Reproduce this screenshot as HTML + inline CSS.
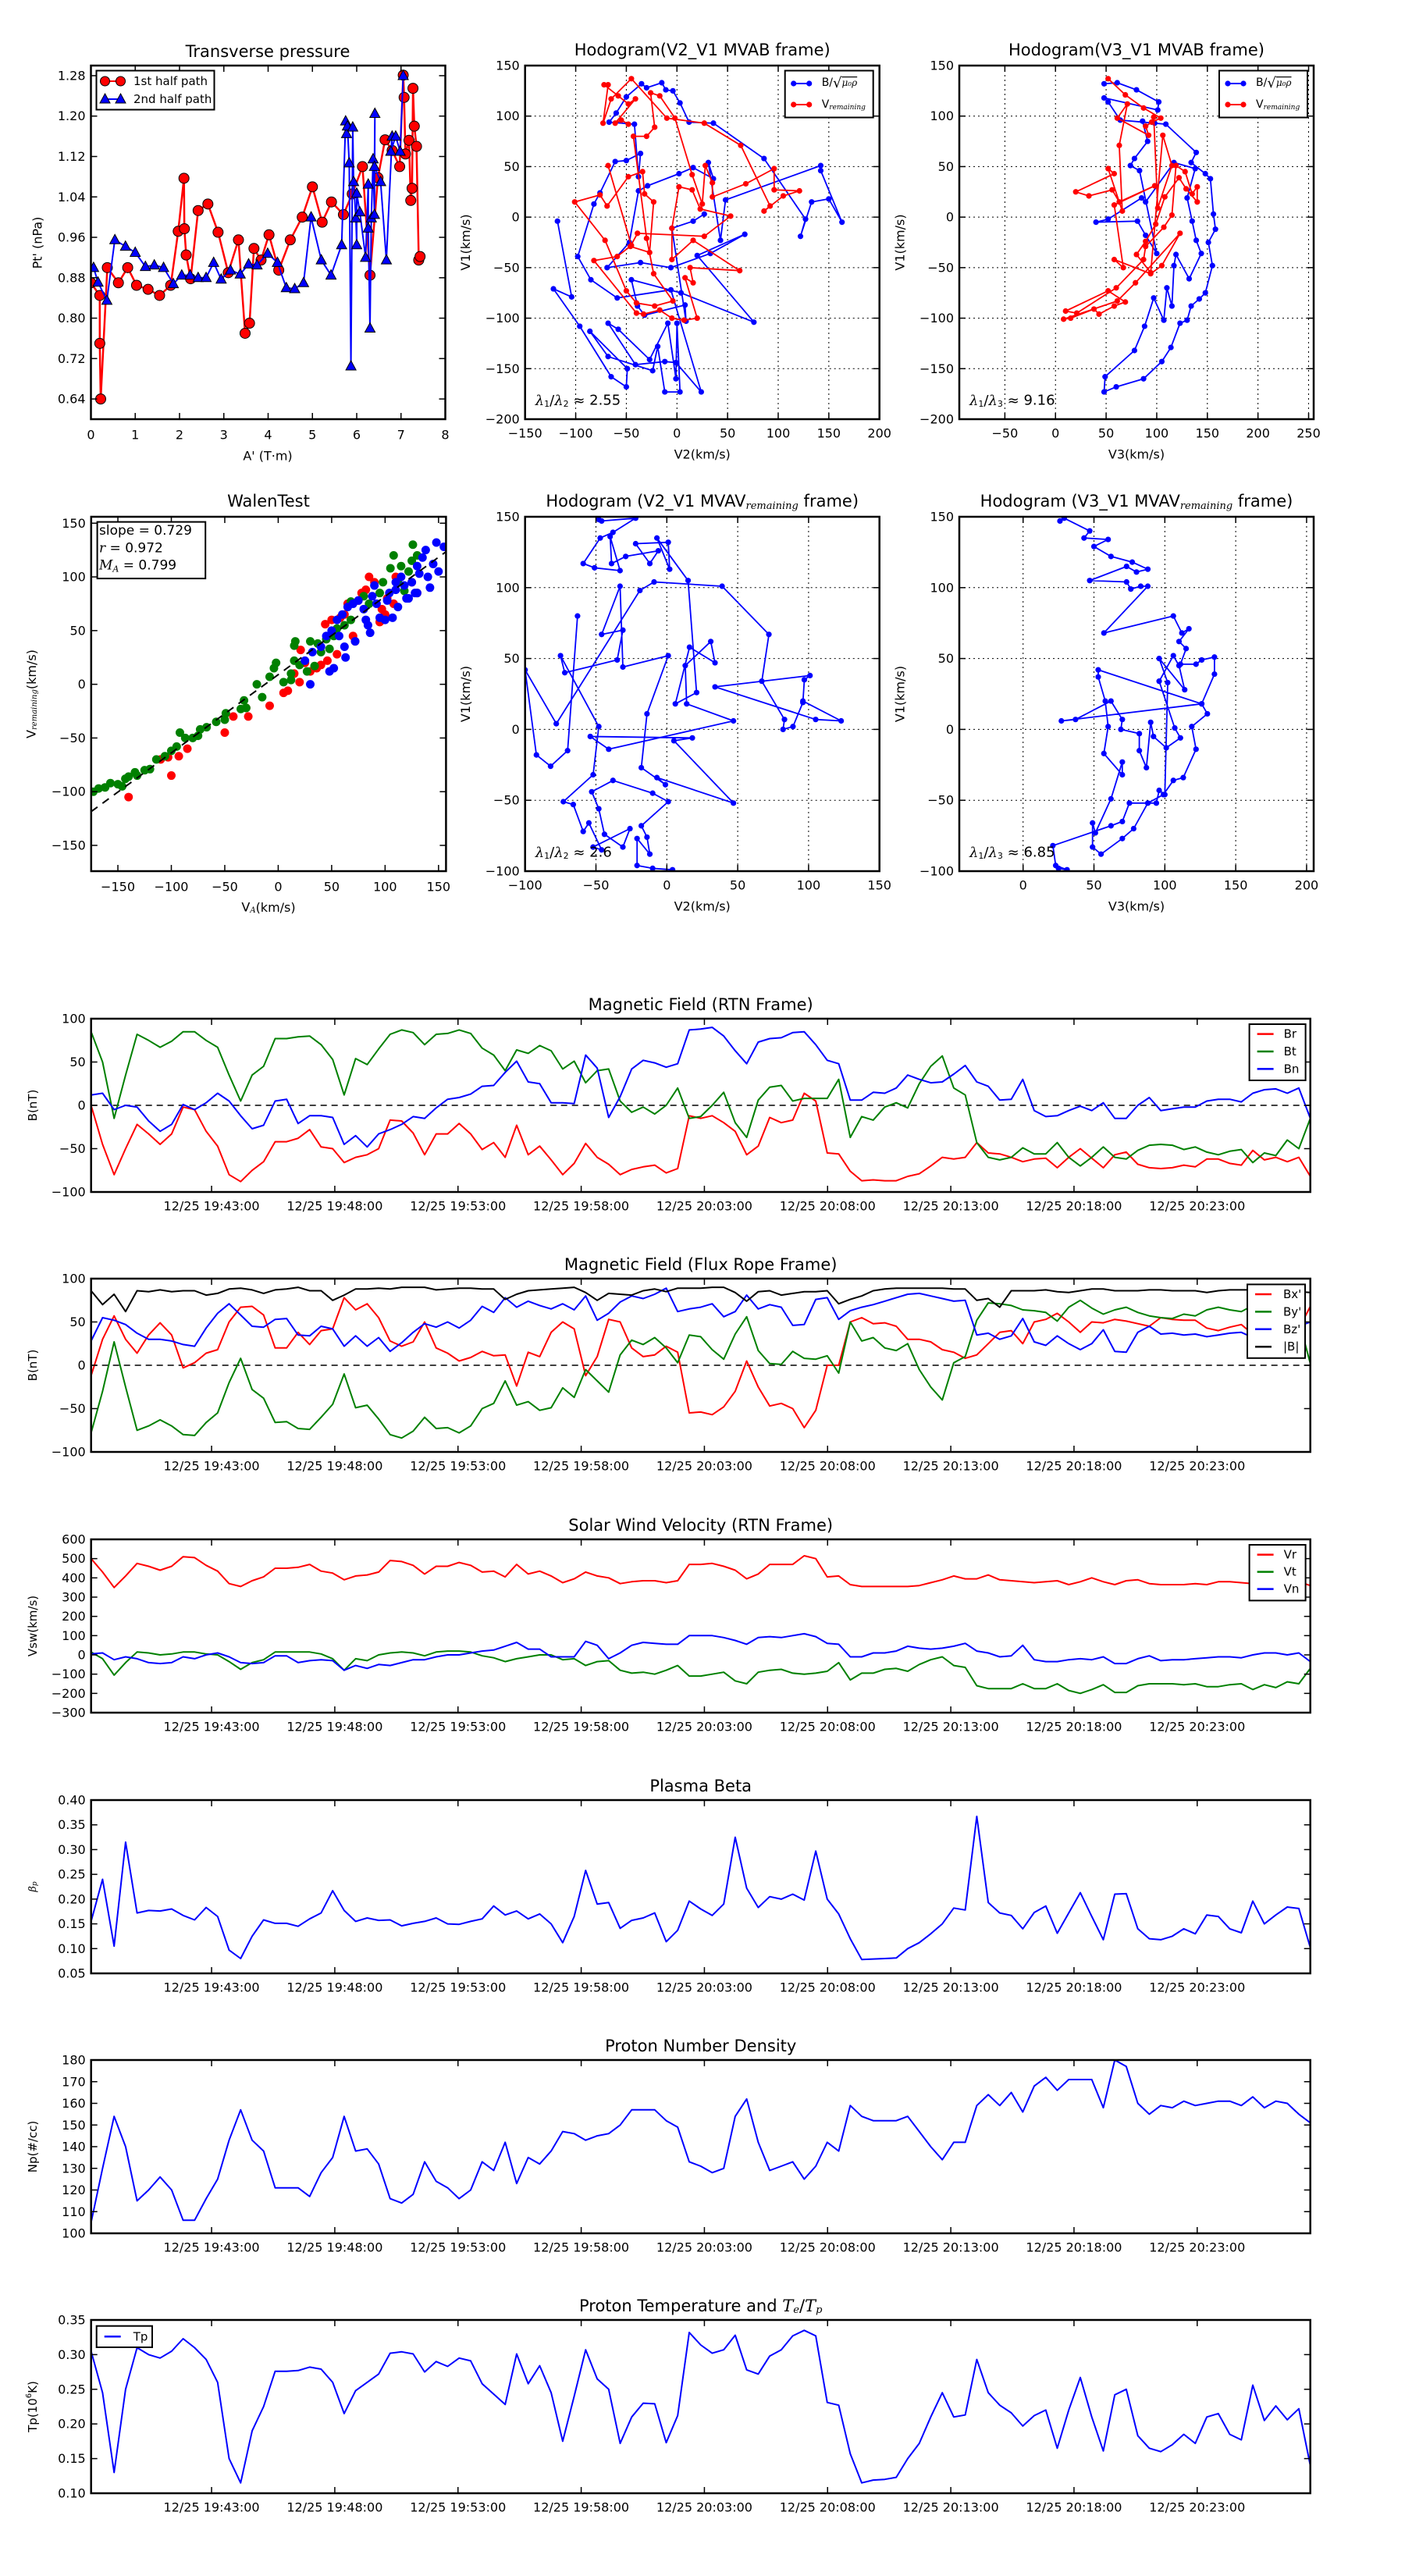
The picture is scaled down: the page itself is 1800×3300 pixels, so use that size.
<!DOCTYPE html>
<html><head><meta charset="utf-8"><title>Flux rope analysis</title>
<style>
html,body{margin:0;padding:0;background:#fff;}
svg{display:block;font-family:"DejaVu Sans","Liberation Sans",sans-serif;}
</style></head>
<body>
<svg id="chart" xmlns="http://www.w3.org/2000/svg" width="1800" height="3300" viewBox="0 0 1800 3300">
<rect x="0" y="0" width="1800" height="3300" fill="#fff"/>
</svg>
<script>
// ---------------- DATA ----------------
const tp1X=[0,0.2,0.2,0.22,0.37,0.62,0.83,1.03,1.29,1.55,1.8,1.97,2.1,2.11,2.15,2.25,2.42,2.64,2.87,3.1,3.33,3.48,3.58,3.68,3.84,4.02,4.24,4.5,4.77,5.0,5.22,5.43,5.7,5.9,6.13,6.3,6.48,6.64,6.8,6.97,7.05,7.07,7.1,7.18,7.22,7.25,7.27,7.3,7.35,7.4,7.43];
const tp1Y=[0.87,0.845,0.75,0.64,0.90,0.87,0.90,0.865,0.857,0.845,0.865,0.972,1.077,0.977,0.925,0.878,1.013,1.026,0.97,0.89,0.955,0.77,0.79,0.938,0.915,0.965,0.895,0.955,1.0,1.06,0.99,1.03,1.005,1.046,1.1,0.885,1.078,1.153,1.132,1.1,1.281,1.237,1.125,1.152,1.033,1.057,1.255,1.18,1.14,0.915,0.922];
const tp2X=[0.06,0.16,0.36,0.54,0.78,1.0,1.23,1.43,1.64,1.86,2.05,2.24,2.42,2.6,2.77,2.94,3.15,3.37,3.56,3.75,3.99,4.21,4.41,4.6,4.8,4.97,5.2,5.42,5.66,5.75,5.77,5.79,5.83,5.87,5.91,5.93,5.98,6.0,6.0,6.07,6.2,6.26,6.26,6.3,6.33,6.37,6.4,6.41,6.4,6.54,6.67,6.8,6.77,6.88,6.98,7.05];
const tp2Y=[0.9,0.871,0.835,0.955,0.942,0.93,0.902,0.905,0.9,0.868,0.885,0.885,0.88,0.88,0.91,0.877,0.895,0.887,0.907,0.905,0.928,0.91,0.86,0.858,0.87,1.0,0.915,0.885,0.945,1.19,1.165,1.18,1.107,0.705,1.178,1.07,0.998,0.945,1.047,1.01,0.92,1.065,0.978,0.78,0.998,1.115,1.005,1.205,1.1,1.07,0.915,1.16,1.13,1.16,1.13,1.28];

const hodo1B=[[-118,-4],[-104,-79],[-122,-71],[-96,-108],[-65,-158],[-50,-168],[-49,-150],[-86,-113],[-68,-138],[-24,-152],[-19,-128],[-12,-173],[3,-173],[0,-105],[-1,-160],[-9,-105],[-27,-141],[-58,-111],[-68,-105],[-41,-146],[-12,-143],[-1,-144],[24,-173],[-6,-72],[-59,-80],[-85,-62],[-98,-39],[-82,13],[-76,24],[-61,55],[-50,56],[-36,63],[-38,40],[-42,92],[-67,94],[-60,103],[-50,119],[-35,132],[-30,128],[-15,133],[-11,126],[-4,125],[3,113],[12,94],[36,93],[86,58],[127,-2],[122,-19],[133,15],[150,18],[163,-5],[142,46],[142,51],[48,17],[43,-23],[31,54],[36,38],[16,49],[2,43],[-29,31],[-38,26],[-47,-25],[-69,-50],[-36,-45],[-6,-50],[33,-36],[67,-17],[20,-38],[76,-104],[4,-75],[-45,-62],[-39,-88],[-32,-97],[8,-87],[9,-103],[-5,-11],[16,-4],[27,3]];
const hodo1V=[[-68,51],[-45,-28],[-59,-39],[-82,-43],[-40,-95],[-33,-96],[-17,-92],[-5,-100],[7,-102],[20,-100],[8,-60],[16,-65],[13,-50],[62,-53],[16,-23],[-5,-42],[-5,-11],[2,30],[15,27],[23,8],[53,1],[27,-19],[-39,-16],[-46,-29],[-27,-35],[-23,15],[-32,23],[-34,45],[-48,40],[-69,11],[-76,22],[-101,15],[-71,-23],[-50,-73],[-40,-85],[-22,-88],[-4,-83],[-23,-56],[-30,-21],[-43,80],[-30,80],[-22,89],[-26,123],[-17,120],[-2,98],[15,42],[25,13],[28,51],[35,34],[35,20],[68,33],[96,48],[96,27],[121,26],[105,21],[86,6],[92,11],[63,71],[27,93],[-10,98],[-45,137],[-65,117],[-73,93],[-68,131],[-72,131],[-58,120],[-48,112],[-41,117],[-61,93],[-55,96],[-48,92]];
const hodo2B=[[48,132],[61,133],[80,126],[102,114],[101,106],[48,118],[52,114],[64,96],[98,93],[109,92],[139,64],[134,54],[148,43],[153,38],[156,3],[158,-12],[151,-25],[155,-48],[148,-75],[142,-81],[134,-88],[130,-102],[123,-105],[114,-129],[105,-143],[87,-160],[60,-168],[48,-173],[49,-158],[78,-132],[88,-108],[97,-80],[107,-102],[110,-70],[115,-88],[117,-48],[119,-37],[132,-61],[144,-36],[139,-23],[135,-4],[130,19],[138,48],[117,54],[89,15],[85,19],[52,-2],[40,-5],[81,-4],[89,-18],[100,-36],[83,46],[74,51],[78,58],[91,75],[86,95]];
const hodo2V=[[52,137],[69,121],[87,108],[104,98],[95,94],[89,90],[92,81],[61,98],[71,112],[63,71],[66,6],[52,48],[58,43],[20,25],[33,21],[56,27],[63,15],[98,31],[58,12],[67,-50],[58,-42],[94,-56],[105,-48],[123,-16],[79,-65],[61,-83],[8,-101],[15,-100],[38,-91],[43,-96],[58,-88],[69,-84],[52,-73],[10,-93],[21,-95],[60,-70],[87,-42],[89,-29],[107,-10],[115,2],[119,51],[128,45],[135,23],[140,30],[140,15],[129,28],[122,39],[108,20],[99,-7],[89,-24],[80,-37],[94,-55],[106,81],[115,51],[101,9],[97,99]];
const walenG=[[-173,-100],[-168,-97],[-162,-96],[-157,-92],[-150,-93],[-146,-95],[-143,-88],[-140,-86],[-134,-82],[-132,-85],[-125,-80],[-120,-79],[-114,-70],[-106,-67],[-100,-62],[-95,-58],[-92,-45],[-87,-50],[-80,-50],[-75,-48],[-73,-42],[-67,-40],[-58,-35],[-50,-33],[-49,-27],[-35,-23],[-32,-15],[-30,-22],[-20,0],[-15,-12],[-8,7],[-4,15],[-2,20],[5,2],[12,4],[12,10],[15,22],[15,36],[16,40],[20,18],[27,12],[30,40],[34,17],[37,38],[40,30],[45,42],[48,33],[52,45],[55,52],[62,55],[68,60],[68,77],[80,82],[85,75],[95,85],[98,95],[105,108],[108,120],[112,95],[115,110],[118,87],[122,105],[125,115],[126,130],[130,120]];
const walenR=[[-140,-105],[-110,-70],[-103,-68],[-100,-85],[-93,-67],[-85,-60],[-50,-45],[-42,-30],[-30,-22],[-28,-30],[-8,-20],[5,-8],[9,-6],[15,10],[20,2],[21,32],[25,20],[30,12],[36,15],[40,18],[46,22],[44,56],[50,60],[55,28],[58,62],[62,65],[65,75],[70,45],[72,40],[75,78],[78,85],[82,88],[85,100],[90,95],[95,58],[100,65],[97,70],[102,80],[110,100],[108,75],[125,95],[130,85]];
const walenB=[[30,0],[25,22],[32,30],[40,35],[45,45],[50,50],[55,60],[60,65],[62,35],[57,45],[63,25],[65,72],[70,75],[72,40],[75,78],[80,70],[82,60],[84,55],[86,48],[88,82],[90,92],[92,75],[95,62],[100,60],[102,78],[104,85],[107,62],[110,95],[112,72],[115,100],[120,80],[125,95],[128,85],[130,110],[132,103],[135,118],[138,125],[140,100],[142,90],[145,112],[148,132],[150,105],[155,128],[130,85],[118,92],[122,80],[110,88],[48,12],[52,15]];
const walenSlope=0.729, walenIntercept=9;
const hodo3B=[[-48,148],[-46,147],[-22,149],[-38,139],[-47,135],[-59,117],[-51,114],[-33,112],[-40,136],[-39,117],[-29,122],[-6,126],[-12,117],[-22,131],[1,132],[2,113],[-7,135],[15,105],[21,26],[6,18],[16,58],[34,47],[31,62],[13,45],[14,18],[47,6],[-41,-14],[-54,-5],[18,-6],[5,-8],[47,-52],[-7,-34],[-1,-39],[-18,-27],[-14,11],[1,52],[-31,44],[-33,101],[-46,67],[-31,70],[-35,49],[-72,40],[-75,52],[-48,2],[-52,-32],[-73,-51],[-66,-53],[-59,-72],[-55,-66],[-46,-85],[-52,-83],[-26,-70],[-31,-83],[-44,-74],[-48,-56],[-53,-44],[-38,-36],[-10,-45],[1,-51],[-18,-68],[-14,-76],[-12,-88],[-21,-77],[-21,-96],[-10,-98],[4,-99]];
const hodo3B2=[[-63,80],[-70,-15],[-82,-26],[-92,-18],[-100,42],[-78,4],[-19,98],[-9,104],[39,101],[72,67],[67,34],[83,7],[82,0],[89,2],[96,19],[97,35],[101,38],[34,30],[105,7],[123,6],[96,20]];
const hodo4B=[[26,147],[29,149],[47,140],[43,135],[60,134],[50,129],[62,122],[77,118],[88,113],[80,111],[73,115],[47,105],[73,104],[76,99],[83,101],[88,101],[57,68],[106,80],[112,68],[117,71],[110,62],[115,57],[111,46],[122,46],[126,49],[135,51],[135,39],[126,18],[130,11],[119,2],[122,-14],[113,-34],[106,-36],[99,-46],[88,-52],[78,-70],[70,-77],[55,-88],[49,-83],[49,-66],[51,-73],[62,-49],[70,-23],[70,-32],[57,-17],[60,2],[58,20],[53,37],[53,42],[126,18],[27,6],[37,7],[62,20],[70,7],[69,0],[82,-3],[82,-15],[87,-27],[90,5],[92,-5],[101,-13],[111,-6],[107,1],[96,34],[106,52],[110,45],[114,28],[96,50],[102,33],[100,-46],[96,-43],[94,-52],[75,-52],[70,-65],[62,-68],[21,-82],[23,-96],[31,-99],[25,-98]];

// time series (minutes after 19:00)
const tStart=38.11, tStep=0.4668;
const timeTicks=[43,48,53,58,63,68,73,78,83];
const timeTickLabels=['12/25 19:43:00','12/25 19:48:00','12/25 19:53:00','12/25 19:58:00','12/25 20:03:00','12/25 20:08:00','12/25 20:13:00','12/25 20:18:00','12/25 20:23:00'];
const Br=[0,-45,-80,-50,-22,-33,-45,-33,-2,-5,-30,-47,-80,-88,-75,-65,-42,-42,-38,-28,-48,-50,-66,-60,-57,-50,-17,-18,-32,-57,-33,-33,-21,-33,-51,-43,-60,-23,-57,-47,-63,-80,-67,-44,-60,-68,-80,-74,-71,-69,-78,-73,-12,-15,-12,-20,-30,-57,-47,-14,-20,-17,14,5,-55,-56,-76,-87,-86,-87,-87,-82,-79,-70,-60,-62,-60,-43,-55,-56,-60,-65,-62,-61,-72,-60,-50,-61,-72,-57,-54,-68,-72,-73,-72,-69,-71,-62,-62,-67,-69,-52,-63,-60,-65,-60,-82];
const Bt=[85,50,-15,35,82,75,67,74,85,85,75,67,35,5,35,45,77,77,79,80,70,53,12,54,47,65,82,87,84,70,82,83,87,83,66,58,40,64,60,69,63,42,51,26,40,42,5,-8,-2,-10,0,20,-15,-13,0,15,-20,-37,6,21,23,5,8,8,8,30,-37,-13,-17,-2,3,-3,25,45,57,20,12,-43,-60,-63,-60,-49,-56,-56,-43,-60,-70,-60,-48,-60,-62,-52,-46,-45,-46,-51,-48,-54,-57,-53,-51,-66,-55,-58,-40,-50,-15];
const Bn=[12,14,-5,0,-2,-18,-30,-22,1,-5,3,14,5,-12,-27,-23,5,7,-21,-12,-12,-14,-45,-35,-48,-33,-28,-22,-13,-15,-3,7,9,13,22,23,38,51,27,25,3,3,2,58,43,-14,10,42,52,49,44,48,87,88,90,80,63,48,73,77,78,84,85,70,52,48,6,6,15,14,20,35,30,26,27,36,46,27,22,6,7,30,-6,-13,-12,-6,-1,-6,3,-15,-15,0,9,-6,-4,-2,-2,5,7,7,4,14,18,19,14,20,-15];
const Bx=[-12,30,57,30,14,35,49,35,-3,3,14,18,50,67,68,58,20,20,38,24,40,42,78,64,71,55,28,22,27,50,20,14,5,9,16,11,12,-24,15,10,38,50,42,-12,10,53,50,20,10,12,22,15,-55,-54,-57,-48,-30,5,-25,-47,-44,-50,-72,-52,0,0,50,55,48,49,45,30,30,27,18,15,8,12,25,38,40,25,50,53,60,50,38,50,49,53,51,48,45,55,53,52,52,43,40,44,47,36,45,45,40,42,68];
const By=[-78,-30,27,-25,-75,-70,-63,-70,-80,-81,-66,-55,-20,8,-28,-38,-66,-65,-73,-74,-60,-45,-10,-49,-46,-62,-80,-84,-76,-60,-73,-72,-78,-70,-50,-44,-18,-46,-42,-52,-49,-26,-37,-5,-18,-31,12,29,24,32,20,3,35,33,18,7,36,56,17,2,1,16,8,7,11,-9,50,28,32,20,17,25,-5,-25,-40,3,10,52,72,71,69,64,63,61,51,67,75,66,59,64,67,61,57,55,54,59,57,64,67,64,62,69,66,60,55,52,2];
const Bz=[28,55,52,47,37,30,30,28,24,22,43,60,71,58,45,44,53,54,35,34,45,42,22,34,22,32,16,26,38,48,44,50,43,52,68,61,78,67,74,69,65,71,64,80,52,60,73,80,77,82,89,62,65,67,71,56,62,81,65,70,67,46,47,76,78,53,63,67,70,74,78,82,83,80,77,74,75,35,37,30,34,54,27,23,34,25,18,25,41,16,15,38,45,36,37,35,36,33,35,37,38,32,44,42,35,45,50];
const Bmag=[86,70,82,62,86,85,87,85,86,86,81,83,88,89,87,83,87,88,90,86,86,75,81,88,88,89,88,90,90,90,87,88,89,89,88,88,76,82,86,87,88,89,90,84,75,83,82,81,86,88,85,89,89,89,90,90,84,74,85,86,81,83,85,85,86,71,76,80,86,88,89,89,89,89,89,88,88,75,77,67,86,86,86,87,85,84,86,88,88,86,86,86,87,87,86,86,86,84,86,87,87,87,88,87,86,85,84];
const Vr=[500,430,350,410,475,460,440,460,510,505,465,435,370,355,385,405,450,450,455,470,435,425,390,410,415,430,490,485,465,420,460,460,480,465,430,435,405,470,420,435,410,375,395,430,410,400,370,380,385,385,375,385,470,470,475,460,440,395,420,470,470,470,515,500,405,410,365,355,355,355,355,355,360,375,390,410,395,395,415,390,385,380,375,380,385,365,380,400,380,365,385,390,370,365,365,365,370,365,380,380,375,370,385,380,375,380,360];
const Vt=[15,-20,-105,-40,15,10,0,5,15,15,5,0,-35,-75,-40,-25,15,15,15,15,5,-20,-80,-20,-30,0,10,15,10,-5,15,20,20,15,-5,-15,-35,-20,-10,0,0,-25,-20,-55,-35,-30,-80,-95,-90,-100,-80,-55,-110,-110,-100,-90,-135,-150,-90,-80,-75,-95,-100,-95,-85,-40,-130,-95,-95,-75,-70,-85,-50,-25,-10,-55,-65,-160,-175,-175,-175,-150,-175,-175,-150,-185,-200,-180,-155,-195,-195,-160,-150,-150,-150,-155,-150,-165,-165,-155,-150,-180,-155,-170,-140,-150,-70];
const Vn=[5,10,-25,-10,-20,-40,-45,-40,-10,-20,0,10,-10,-40,-45,-40,-5,-5,-40,-30,-25,-30,-80,-55,-70,-50,-55,-40,-25,-25,-10,0,0,10,20,25,45,65,30,30,-10,-10,-10,70,50,-20,10,50,65,60,55,55,100,100,100,90,75,55,90,95,90,100,110,95,60,55,-10,-10,10,10,20,45,35,30,35,45,60,20,10,-10,-5,50,-25,-35,-35,-25,-20,-25,-10,-45,-45,-20,-5,-30,-25,-25,-20,-15,-10,-10,-15,0,10,10,0,10,-35];
const Beta=[0.155,0.24,0.105,0.315,0.172,0.177,0.176,0.18,0.167,0.158,0.183,0.165,0.097,0.08,0.125,0.158,0.151,0.151,0.145,0.16,0.172,0.217,0.177,0.155,0.162,0.157,0.158,0.146,0.151,0.155,0.162,0.15,0.149,0.155,0.16,0.186,0.168,0.176,0.16,0.17,0.15,0.112,0.165,0.258,0.19,0.193,0.141,0.157,0.162,0.172,0.114,0.137,0.196,0.18,0.167,0.19,0.325,0.222,0.183,0.205,0.2,0.21,0.198,0.297,0.2,0.17,0.12,0.078,0.079,0.08,0.081,0.1,0.112,0.13,0.15,0.182,0.178,0.367,0.193,0.172,0.167,0.14,0.173,0.186,0.131,0.172,0.213,0.165,0.118,0.21,0.211,0.14,0.12,0.118,0.125,0.14,0.13,0.168,0.165,0.14,0.132,0.196,0.15,0.168,0.184,0.181,0.102];
const Np=[105,130,154,140,115,120,126,120,106,106,116,125,143,157,143,138,121,121,121,117,128,135,154,138,139,132,116,114,118,133,124,121,116,120,133,129,142,123,135,132,138,147,146,143,145,146,150,157,157,157,152,149,133,131,128,130,154,162,142,129,131,133,125,131,142,138,159,154,152,152,152,154,147,140,134,142,142,159,164,159,165,156,168,172,166,171,171,171,158,180,177,160,155,159,158,161,159,160,161,161,159,163,158,161,160,155,151];
const Tp=[0.305,0.245,0.13,0.25,0.31,0.30,0.295,0.305,0.323,0.31,0.293,0.26,0.15,0.115,0.19,0.225,0.276,0.276,0.277,0.282,0.279,0.26,0.215,0.248,0.26,0.272,0.302,0.304,0.301,0.275,0.29,0.283,0.295,0.291,0.258,0.243,0.228,0.301,0.258,0.284,0.245,0.175,0.24,0.307,0.265,0.25,0.172,0.21,0.23,0.229,0.173,0.212,0.332,0.314,0.302,0.307,0.328,0.278,0.272,0.298,0.307,0.327,0.335,0.327,0.231,0.227,0.157,0.115,0.119,0.12,0.123,0.15,0.172,0.21,0.245,0.21,0.213,0.293,0.245,0.227,0.216,0.197,0.212,0.22,0.165,0.22,0.267,0.21,0.161,0.242,0.25,0.183,0.165,0.16,0.17,0.185,0.172,0.21,0.215,0.185,0.177,0.256,0.205,0.226,0.206,0.222,0.14];

// ---------------- HELPERS ----------------
const NS='http://www.w3.org/2000/svg';
const svg=document.getElementById('chart');
let clipId=0;
function mk(tag,attrs,name,parent){
  const e=document.createElementNS(NS,tag);
  for(const k in attrs) e.setAttribute(k,attrs[k]);
  
  
  (parent||svg).appendChild(e);
  return e;
}
function txt(x,y,s,opt,name,parent){
  opt=opt||{};
  const t=mk('text',{x:x,y:y,'font-size':opt.size||16,'text-anchor':opt.anchor||'middle','dominant-baseline':opt.base||'central',fill:'#000'},name,parent);
  if(opt.rot) t.setAttribute('transform','rotate('+opt.rot+' '+x+' '+y+')');
  t.textContent=s;
  return t;
}
function axes(c){
  const g=mk('g',{},c.name);
  const sx=v=>c.x+(v-c.xlim[0])/(c.xlim[1]-c.xlim[0])*c.w;
  const sy=v=>c.y+c.h-(v-c.ylim[0])/(c.ylim[1]-c.ylim[0])*c.h;
  const id='clip'+(clipId++);
  const cp=mk('clipPath',{id:id},'clip-region',g);
  mk('rect',{x:c.x,y:c.y,width:c.w,height:c.h},'clip-rect',cp);
  if(c.grid){
    c.xticks.forEach(v=>{mk('line',{x1:sx(v),x2:sx(v),y1:c.y,y2:c.y+c.h,stroke:'#000','stroke-width':1,'stroke-dasharray':'2,4'},'x-gridline',g);});
    c.yticks.forEach(v=>{mk('line',{x1:c.x,x2:c.x+c.w,y1:sy(v),y2:sy(v),stroke:'#000','stroke-width':1,'stroke-dasharray':'2,4'},'y-gridline',g);});
  }
  const data=mk('g',{'clip-path':'url(#'+id+')'},'plot-area',g);
  const front=mk('g',{},'axis-frame-group',g);
  return {g,data,front,sx,sy,c};
}
function finish(a){
  const c=a.c, g=a.front, sx=a.sx, sy=a.sy;
  const tl=8;
  c.xticks.forEach((v,i)=>{
    const x=sx(v);
    mk('line',{x1:x,x2:x,y1:c.y+c.h,y2:c.y+c.h-tl,stroke:'#000','stroke-width':1.5},'x-tick',g);
    mk('line',{x1:x,x2:x,y1:c.y,y2:c.y+tl,stroke:'#000','stroke-width':1.5},'x-tick-top',g);
    txt(x,c.y+c.h+(c.xlabOff||18),c.xlabels[i],{size:c.tickSize||16},'x-tick-label',g);
  });
  c.yticks.forEach((v,i)=>{
    const y=sy(v);
    mk('line',{x1:c.x,x2:c.x+tl,y1:y,y2:y,stroke:'#000','stroke-width':1.5},'y-tick',g);
    mk('line',{x1:c.x+c.w,x2:c.x+c.w-tl,y1:y,y2:y,stroke:'#000','stroke-width':1.5},'y-tick-right',g);
    txt(c.x-7,y,c.ylabels[i],{size:c.tickSize||16,anchor:'end'},'y-tick-label',g);
  });
  mk('rect',{x:c.x,y:c.y,width:c.w,height:c.h,fill:'none',stroke:'#000','stroke-width':2.5},'axes-frame',g);
}
function line(a,xs,ys,color,w,name,dash){
  const d=xs.map((x,i)=>(i?'L':'M')+a.sx(x).toFixed(1)+','+a.sy(ys[i]).toFixed(1)).join('');
  const p=mk('path',{d:d,fill:'none',stroke:color,'stroke-width':w,'stroke-linejoin':'round'},name,a.data);
  if(dash) p.setAttribute('stroke-dasharray',dash);
  return p;
}
function fmt(v,d){return v.toFixed(d).replace('-','\u2212');}
function range(a,b,s){const r=[];for(let v=a;v<=b+1e-9;v+=s)r.push(+v.toFixed(6));return r;}

// ---------------- TRANSVERSE PRESSURE ----------------
(function(){
  const yt=range(0.64,1.28,0.08), xt=range(0,8,1);
  const a=axes({name:'transverse-pressure-panel',x:116.5,y:84,w:454,h:453,xlim:[0,8],ylim:[0.60,1.30],xticks:xt,xlabels:xt.map(v=>String(v)),yticks:yt,ylabels:yt.map(v=>v.toFixed(2)),xlabOff:20});
  line(a,tp1X,tp1Y,'#ff0000',2.5,'first-half-line');
  tp1X.forEach((x,i)=>{mk('circle',{cx:a.sx(x),cy:a.sy(tp1Y[i]),r:6.5,fill:'#ff0000',stroke:'#000','stroke-width':1},'first-half-marker',a.data);});
  line(a,tp2X,tp2Y,'#0000ff',2,'second-half-line');
  tp2X.forEach((x,i)=>{const X=a.sx(x),Y=a.sy(tp2Y[i]);mk('path',{d:'M'+X+','+(Y-7)+'L'+(X+6.5)+','+(Y+5)+'L'+(X-6.5)+','+(Y+5)+'Z',fill:'#0000ff',stroke:'#000','stroke-width':1},'second-half-marker',a.data);});
  finish(a);
  const lg=mk('g',{},'tp-legend');
  mk('rect',{x:123.5,y:90.5,width:151,height:50,fill:'#fff',stroke:'#000','stroke-width':2},'legend-box',lg);
  mk('line',{x1:134.5,x2:154.5,y1:104,y2:104,stroke:'#ff0000','stroke-width':2},'legend-line-first',lg);
  mk('circle',{cx:134.5,cy:104,r:6,fill:'#ff0000',stroke:'#000'},'legend-marker-first',lg);
  mk('circle',{cx:154.5,cy:104,r:6,fill:'#ff0000',stroke:'#000'},'legend-marker-first',lg);
  txt(171,104,'1st half path',{size:15,anchor:'start'},'legend-label-first',lg);
  mk('line',{x1:134.5,x2:154.5,y1:127,y2:127,stroke:'#0000ff','stroke-width':2},'legend-line-second',lg);
  mk('path',{d:'M134.5,120L141,132L128,132Z',fill:'#0000ff',stroke:'#000'},'legend-marker-second',lg);
  mk('path',{d:'M154.5,120L161,132L148,132Z',fill:'#0000ff',stroke:'#000'},'legend-marker-second',lg);
  txt(171,127,'2nd half path',{size:15,anchor:'start'},'legend-label-second',lg);
  txt(343,66,'Transverse pressure',{size:21},'tp-title');
  txt(343,584,"A' (T\u00b7m)",{size:16},'tp-x-axis-title');
  txt(48,311,"Pt' (nPa)",{size:16,rot:-90},'tp-y-axis-title');
})();

// ---------------- HODOGRAM helper ----------------
function hodo(cfg){
  const a=axes(cfg);
  cfg.series.forEach(s=>{
    line(a,s.pts.map(p=>p[0]),s.pts.map(p=>p[1]),s.color,1.8,s.name+'-line');
    s.pts.forEach(p=>{mk('circle',{cx:a.sx(p[0]),cy:a.sy(p[1]),r:3.6,fill:s.color},s.name+'-point',a.data);});
  });
  finish(a);
  const cx=cfg.x+cfg.w/2;
  const t=txt(cx,cfg.y-20,'',{size:21},cfg.name+'-title');
  t.innerHTML=cfg.title;
  txt(cx,cfg.y+cfg.h+45,cfg.xtitle,{size:16},cfg.name+'-x-axis-title');
  txt(cfg.x-76,cfg.y+cfg.h/2,'V1(km/s)',{size:16,rot:-90},cfg.name+'-y-axis-title');
  const r=txt(cfg.x+13,cfg.y+cfg.h-24,'',{size:18,anchor:'start'},cfg.name+'-eigen-ratio');
  r.innerHTML=cfg.ratio;
  if(cfg.legend){
    const lg=mk('g',{},cfg.name+'-legend');
    const lx=cfg.x+cfg.w-121;
    mk('rect',{x:lx,y:cfg.y+6.5,width:113,height:60,fill:'#fff',stroke:'#000','stroke-width':2},'legend-box',lg);
    mk('line',{x1:lx+11,x2:lx+31,y1:cfg.y+23,y2:cfg.y+23,stroke:'#0000ff','stroke-width':2},'legend-line-b',lg);
    mk('circle',{cx:lx+11,cy:cfg.y+23,r:3.6,fill:'#0000ff'},'legend-marker-b',lg);
    mk('circle',{cx:lx+31,cy:cfg.y+23,r:3.6,fill:'#0000ff'},'legend-marker-b',lg);
    const t1=txt(lx+47,cfg.y+22,'',{size:14,anchor:'start'},'legend-label-b',lg);
    t1.innerHTML='B/<tspan font-size="18">\u221a</tspan><tspan font-family="DejaVu Serif,serif" font-style="italic" font-size="12" text-decoration="overline">\u03bc\u2080\u03c1</tspan>';
    mk('line',{x1:lx+11,x2:lx+31,y1:cfg.y+50,y2:cfg.y+50,stroke:'#ff0000','stroke-width':2},'legend-line-v',lg);
    mk('circle',{cx:lx+11,cy:cfg.y+50,r:3.6,fill:'#ff0000'},'legend-marker-v',lg);
    mk('circle',{cx:lx+31,cy:cfg.y+50,r:3.6,fill:'#ff0000'},'legend-marker-v',lg);
    const t2=txt(lx+47,cfg.y+50,'',{size:14,anchor:'start'},'legend-label-v',lg);
    t2.innerHTML='V<tspan font-family="DejaVu Serif,serif" font-style="italic" font-size="9" dy="4">remaining</tspan>';
  }
  return a;
}
const ratio12='<tspan font-family="DejaVu Serif,serif" font-style="italic">\u03bb</tspan><tspan font-size="11" dy="4">1</tspan><tspan dy="-4">/</tspan><tspan font-family="DejaVu Serif,serif" font-style="italic">\u03bb</tspan><tspan font-size="11" dy="4">2</tspan><tspan dy="-4"> \u2248 </tspan>';
const ratio13='<tspan font-family="DejaVu Serif,serif" font-style="italic">\u03bb</tspan><tspan font-size="11" dy="4">1</tspan><tspan dy="-4">/</tspan><tspan font-family="DejaVu Serif,serif" font-style="italic">\u03bb</tspan><tspan font-size="11" dy="4">3</tspan><tspan dy="-4"> \u2248 </tspan>';
const remSub='<tspan font-family="DejaVu Serif,serif" font-style="italic" font-size="13" dy="6">remaining</tspan><tspan dy="-6"> frame)</tspan>';

let xt=range(-150,200,50), yt=range(-200,150,50);
hodo({name:'hodogram-v2-v1-mvab',x:672.7,y:84,w:454,h:453,xlim:[-150,200],ylim:[-200,150],grid:true,xticks:xt,xlabels:xt.map(v=>fmt(v,0)),yticks:yt,ylabels:yt.map(v=>fmt(v,0)),
  series:[{pts:hodo1B,color:'#0000ff',name:'b-field-path'},{pts:hodo1V,color:'#ff0000',name:'v-remaining-path'}],
  title:'Hodogram(V2_V1 MVAB frame)',xtitle:'V2(km/s)',ratio:ratio12+'2.55',legend:true});
xt=range(-50,250,50);
hodo({name:'hodogram-v3-v1-mvab',x:1229,y:84,w:454,h:453,xlim:[-95,255],ylim:[-200,150],grid:true,xticks:xt,xlabels:xt.map(v=>fmt(v,0)),yticks:yt,ylabels:yt.map(v=>fmt(v,0)),
  series:[{pts:hodo2B,color:'#0000ff',name:'b-field-path'},{pts:hodo2V,color:'#ff0000',name:'v-remaining-path'}],
  title:'Hodogram(V3_V1 MVAB frame)',xtitle:'V3(km/s)',ratio:ratio13+'9.16',legend:true});
xt=range(-100,150,50); yt=range(-100,150,50);
hodo({name:'hodogram-v2-v1-mvav',x:672.7,y:662,w:454,h:454,xlim:[-100,150],ylim:[-100,150],grid:true,xticks:xt,xlabels:xt.map(v=>fmt(v,0)),yticks:yt,ylabels:yt.map(v=>fmt(v,0)),
  series:[{pts:hodo3B,color:'#0000ff',name:'b-field-path'},{pts:hodo3B2,color:'#0000ff',name:'b-field-path-2'}],
  title:'Hodogram (V2_V1 MVAV'+remSub,xtitle:'V2(km/s)',ratio:ratio12+'2.6',legend:false});
xt=range(0,200,50);
hodo({name:'hodogram-v3-v1-mvav',x:1229,y:662,w:454,h:454,xlim:[-45,205],ylim:[-100,150],grid:true,xticks:xt,xlabels:xt.map(v=>fmt(v,0)),yticks:yt,ylabels:yt.map(v=>fmt(v,0)),
  series:[{pts:hodo4B,color:'#0000ff',name:'b-field-path'}],
  title:'Hodogram (V3_V1 MVAV'+remSub,xtitle:'V3(km/s)',ratio:ratio13+'6.85',legend:false});

// ---------------- WALEN TEST ----------------
(function(){
  const t=range(-150,150,50);
  const a=axes({name:'walen-test-panel',x:116.8,y:662,w:454.6,h:454,xlim:[-175,157],ylim:[-174,156],xticks:t,xlabels:t.map(v=>fmt(v,0)),yticks:t,ylabels:t.map(v=>fmt(v,0)),xlabOff:20});
  [[walenR,'#ff0000','walen-point-red'],[walenG,'#008000','walen-point-green'],[walenB,'#0000ff','walen-point-blue']].forEach(s=>{
    s[0].forEach(p=>{mk('circle',{cx:a.sx(p[0]),cy:a.sy(p[1]),r:5.5,fill:s[1]},s[2],a.data);});
  });
  line(a,[-175,157],[-175*walenSlope+walenIntercept,157*walenSlope+walenIntercept],'#000',2,'walen-fit-line','10,8');
  finish(a);
  const b=mk('g',{},'walen-stats-box');
  mk('rect',{x:124.6,y:668.6,width:138.6,height:72.5,fill:'#fff',stroke:'#000','stroke-width':2},'stats-box',b);
  txt(127,680,'slope = 0.729',{size:17,anchor:'start'},'slope-text',b);
  const r=txt(127,702.5,'',{size:17,anchor:'start'},'r-text',b); r.innerHTML='<tspan font-family="DejaVu Serif,serif" font-style="italic">r</tspan> = 0.972';
  const m=txt(127,724.6,'',{size:17,anchor:'start'},'ma-text',b); m.innerHTML='<tspan font-family="DejaVu Serif,serif" font-style="italic">M</tspan><tspan font-family="DejaVu Serif,serif" font-style="italic" font-size="11" dy="4">A</tspan><tspan dy="-4"> = 0.799</tspan>';
  txt(344,642,'WalenTest',{size:21},'walen-title');
  const xl=txt(344,1162,'',{size:16},'walen-x-axis-title'); xl.innerHTML='V<tspan font-family="DejaVu Serif,serif" font-style="italic" font-size="10" dy="4">A</tspan><tspan dy="-4">(km/s)</tspan>';
  const yl=txt(40,889,'',{size:16,rot:-90},'walen-y-axis-title'); yl.innerHTML='V<tspan font-family="DejaVu Serif,serif" font-style="italic" font-size="10" dy="4">remaining</tspan><tspan dy="-4">(km/s)</tspan>';
})();

// ---------------- TIME SERIES ----------------
const tsX=Br.map((_,i)=>tStart+i*tStep);
function ts(cfg){
  const a=axes({name:cfg.name,x:116.7,y:cfg.y,w:1562,h:222,xlim:[tStart,tStart+106*tStep],ylim:cfg.ylim,xticks:timeTicks,xlabels:timeTickLabels,yticks:cfg.yticks,ylabels:cfg.yticks.map(v=>fmt(v,cfg.dec)),xlabOff:18});
  if(cfg.zero) line(a,[tStart,tStart+106*tStep],[0,0],'#000',1.5,'zero-reference-line','8,6');
  cfg.series.forEach(s=>{line(a,tsX.slice(0,s.v.length),s.v,s.c,2,s.n);});
  finish(a);
  txt(897.7,cfg.y-18,'',{size:21},cfg.name+'-title').innerHTML=cfg.title;
  txt(cfg.ylx||42,cfg.y+111,'',{size:15,rot:-90},cfg.name+'-y-axis-title').innerHTML=cfg.ylabel;
  if(cfg.legend){
    const L=cfg.legend, lg=mk('g',{},cfg.name+'-legend');
    mk('rect',{x:L.x,y:L.y,width:L.w,height:L.h,fill:'#fff',stroke:'#000','stroke-width':2},'legend-box',lg);
    cfg.series.forEach((s,i)=>{
      const yy=L.y+L.first+i*L.step;
      mk('line',{x1:L.x+10,x2:L.x+31,y1:yy,y2:yy,stroke:s.c,'stroke-width':2.5},'legend-line-'+s.n,lg);
      txt(L.x+L.tx,yy,s.label,{size:15,anchor:'start'},'legend-label-'+s.n,lg);
    });
  }
}
ts({name:'magnetic-field-rtn',y:1305,ylim:[-100,100],yticks:range(-100,100,50),dec:0,zero:true,title:'Magnetic Field (RTN Frame)',ylabel:'B(nT)',
  series:[{v:Br,c:'#ff0000',n:'br-line',label:'Br'},{v:Bt,c:'#008000',n:'bt-line',label:'Bt'},{v:Bn,c:'#0000ff',n:'bn-line',label:'Bn'}],
  legend:{x:1600.6,y:1312,w:72,h:72,first:12.6,step:22.4,tx:44}});
ts({name:'magnetic-field-flux-rope',y:1638,ylim:[-100,100],yticks:range(-100,100,50),dec:0,zero:true,title:'Magnetic Field (Flux Rope Frame)',ylabel:'B(nT)',
  series:[{v:Bx,c:'#ff0000',n:'bx-line',label:"Bx'"},{v:By,c:'#008000',n:'by-line',label:"By'"},{v:Bz,c:'#0000ff',n:'bz-line',label:"Bz'"},{v:Bmag,c:'#000000',n:'bmag-line',label:'|B|'}],
  legend:{x:1598,y:1645.4,w:74,h:94.4,first:12.6,step:22.4,tx:46}});
ts({name:'solar-wind-velocity',y:1972,ylim:[-300,600],yticks:range(-300,600,100),dec:0,title:'Solar Wind Velocity (RTN Frame)',ylabel:'Vsw(km/s)',
  series:[{v:Vr,c:'#ff0000',n:'vr-line',label:'Vr'},{v:Vt,c:'#008000',n:'vt-line',label:'Vt'},{v:Vn,c:'#0000ff',n:'vn-line',label:'Vn'}],
  legend:{x:1600.6,y:1979,w:72,h:71.4,first:12.6,step:22,tx:44}});
ts({name:'plasma-beta',y:2306,ylim:[0.05,0.40],yticks:range(0.05,0.40,0.05),dec:2,title:'Plasma Beta',ylabel:'<tspan font-family="DejaVu Serif,serif" font-style="italic" font-size="13">\u03b2</tspan><tspan font-family="DejaVu Serif,serif" font-style="italic" font-size="9" dy="3">p</tspan>',
  series:[{v:Beta,c:'#0000ff',n:'beta-line',label:'beta'}]});
ts({name:'proton-number-density',y:2639,ylim:[100,180],yticks:range(100,180,10),dec:0,title:'Proton Number Density',ylabel:'Np(#/cc)',
  series:[{v:Np,c:'#0000ff',n:'density-line',label:'Np'}]});
ts({name:'proton-temperature',y:2972,ylim:[0.10,0.35],yticks:range(0.10,0.35,0.05),dec:2,title:'Proton Temperature and <tspan font-family="DejaVu Serif,serif" font-style="italic">T</tspan><tspan font-family="DejaVu Serif,serif" font-style="italic" font-size="13" dy="5">e</tspan><tspan dy="-5">/</tspan><tspan font-family="DejaVu Serif,serif" font-style="italic">T</tspan><tspan font-family="DejaVu Serif,serif" font-style="italic" font-size="13" dy="5">p</tspan>',ylabel:'Tp(10<tspan font-size="10" dy="-5">6</tspan><tspan dy="5">K)</tspan>',
  series:[{v:Tp,c:'#0000ff',n:'tp-line',label:'Tp'}],
  legend:{x:123.7,y:2979.7,w:71.3,h:27.3,first:13.6,step:22,tx:47}});
</script>
</body></html>
